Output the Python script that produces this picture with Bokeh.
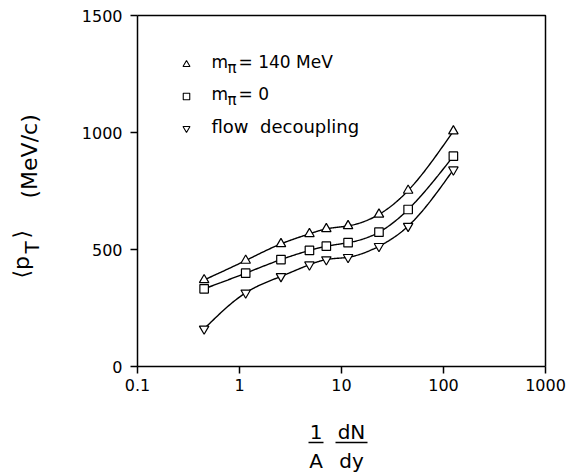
import numpy as np
from math import pi, log10
from bokeh.plotting import figure
from bokeh.models import Range1d, FixedTicker, CustomJSTickFormatter, Label, Arrow
from bokeh.embed import file_html
from bokeh.resources import INLINE

# ---------------- data ----------------
x_vals = [0.45, 1.15, 2.55, 4.85, 7.1, 11.6, 23.3, 45.0, 125.0]      # (1/A) dN/dy
pt_m140 = [370, 453, 524, 567, 588, 601, 650, 752, 1006]              # m_pi = 140 MeV
pt_m0 = [332, 399, 457, 496, 514, 529, 574, 671, 899]                 # m_pi = 0
pt_flow = [161, 315, 385, 435, 457, 467, 514, 600, 841]               # flow decoupling

x_ticks = [0.1, 1, 10, 100, 1000]
x_tick_labels = ["0.1", "1", "10", "100", "1000"]
y_ticks = [0, 500, 1000, 1500]
y_tick_labels = ["0", "500", "1000", "1500"]

# ---------------- layout ----------------
W, H = 566, 473
FL, FR, FT, FB = 137, 545, 15, 366   # axis box edges in page pixels
FONT = "DejaVu Sans"
x_lo, x_hi = x_ticks[0], x_ticks[-1]
y_lo, y_hi = y_ticks[0], y_ticks[-1]
dec = (FR - FL) / (log10(x_hi) - log10(x_lo))          # px per decade
ypx = (FB - FT) / (y_hi - y_lo)                          # px per unit

# the plotting frame fills the page; the axes sit at fixed places inside it
p = figure(width=W, height=H, x_axis_type="log",
           x_range=Range1d(10 ** (log10(x_lo) - FL / dec), 10 ** (log10(x_hi) + (W - FR) / dec)),
           y_range=Range1d(y_lo - (H - FB) / ypx, y_hi + FT / ypx),
           output_backend="svg", toolbar_location=None,
           min_border=0)
p.grid.visible = False
p.background_fill_color = "white"
p.border_fill_color = "white"
p.outline_line_color = None

for ax in (p.xaxis[0], p.yaxis[0]):
    ax.axis_line_color = "black"
    ax.axis_line_width = 1.5
    ax.major_tick_line_color = "black"
    ax.major_tick_line_width = 1.5
    ax.major_tick_out = 7
    ax.major_tick_in = 0
    ax.minor_tick_line_color = None
    ax.major_label_text_font = FONT
    ax.major_label_text_font_size = "16px"
    ax.major_label_text_color = "black"

fmt_code = """
const i = tvals.findIndex(t => Math.abs(t - tick) <= 1e-9 * Math.max(1, Math.abs(t)));
return i >= 0 ? tlabels[i] : '';
"""
p.xaxis.ticker = FixedTicker(ticks=x_ticks)
p.xaxis.formatter = CustomJSTickFormatter(args=dict(tvals=x_ticks, tlabels=x_tick_labels), code=fmt_code)
p.xaxis.major_label_standoff = 5
p.xaxis.fixed_location = y_lo
p.xaxis.bounds = (x_lo, x_hi)
p.yaxis.ticker = FixedTicker(ticks=y_ticks)
p.yaxis.formatter = CustomJSTickFormatter(args=dict(tvals=y_ticks, tlabels=y_tick_labels), code=fmt_code)
p.yaxis.major_label_standoff = 8
p.yaxis.fixed_location = x_lo
p.yaxis.bounds = (y_lo, y_hi)

# top and right sides of the box
p.line([x_lo, x_hi, x_hi], [y_hi, y_hi, y_lo], line_color="black", line_width=1.5)


# ---------------- smooth curves through the points (natural cubic spline in log x) ----------------
def spline_curve(xs, ys, per_seg=30):
    u = np.log10(np.asarray(xs, float))
    y = np.asarray(ys, float)
    n = len(u)
    h = np.diff(u)
    A = np.zeros((n - 2, n - 2))
    r = np.zeros(n - 2)
    for i in range(1, n - 1):
        k = i - 1
        A[k, k] = 2 * (h[i - 1] + h[i])
        if k > 0:
            A[k, k - 1] = h[i - 1]
        if k < n - 3:
            A[k, k + 1] = h[i]
        r[k] = 6 * ((y[i + 1] - y[i]) / h[i] - (y[i] - y[i - 1]) / h[i - 1])
    M = np.zeros(n)
    M[1:-1] = np.linalg.solve(A, r)
    uu, yy = [], []
    for i in range(n - 1):
        t = np.linspace(u[i], u[i + 1], per_seg, endpoint=(i == n - 2))
        a = u[i + 1] - t
        b = t - u[i]
        s = (M[i] * a ** 3 + M[i + 1] * b ** 3) / (6 * h[i]) \
            + (y[i] / h[i] - M[i] * h[i] / 6) * a + (y[i + 1] / h[i] - M[i + 1] * h[i] / 6) * b
        uu.extend(t)
        yy.extend(s)
    return 10 ** np.array(uu), np.array(yy)


series = [(pt_m140, "triangle"), (pt_m0, "square"), (pt_flow, "inverted_triangle")]
for ys, _ in series:
    cx, cy = spline_curve(x_vals, ys)
    p.line(cx, cy, line_color="black", line_width=1.4)
for ys, mk in series:
    p.scatter(x_vals, ys, marker=mk, size=9.5 if mk != "square" else 8.5,
              fill_color="white", line_color="black", line_width=1.2)


# ---------------- helpers for page-pixel placement of annotations ----------------
def px_to_x(px):
    return 10 ** ((px - FL) / dec + log10(x_lo))


def py_to_y(py):
    return (FB - py) / ypx + y_lo


BASE_SHIFT = 0.4  # rendered alphabetic baseline sits ~0.4 em lower than asked; compensate


def lab(text, px, py, size, align="left", angle=0.0):
    if angle == 0.0:
        py = py - BASE_SHIFT * size
    else:
        px = px - BASE_SHIFT * size
    p.add_layout(Label(x=px, y=H - py, x_units="screen", y_units="screen",
                       text=text, text_font=FONT, text_font_size=f"{size}px",
                       text_align=align, text_baseline="alphabetic",
                       text_color="black", angle=angle))


# ---------------- legend (drawn inside the box) ----------------
leg_marker_px = 186
leg_rows = [(64, "triangle"), (96, "square"), (128, "inverted_triangle")]
for my, mk in leg_rows:
    p.scatter([px_to_x(leg_marker_px)], [py_to_y(my)], marker=mk, size=7 if mk != "square" else 6.5,
              fill_color="white", line_color="black", line_width=1.1)

lab("m", 211, 68, 17)
lab("π", 227, 73, 15)
lab("= 140 MeV", 238, 68, 17)
lab("m", 211, 100, 17)
lab("π", 227, 105, 15)
lab("= 0", 238, 100, 17)
lab("flow\u00a0 decoupling", 211, 133, 18)

# ---------------- y axis label: <p_T>  (MeV/c) ----------------
lab("⟨p", 30, 278, 22, angle=pi / 2)
lab("T", 39, 253, 20, angle=pi / 2)
lab("⟩", 30, 238, 22, angle=pi / 2)
lab("(MeV/c)", 38, 198, 22, angle=pi / 2)

# ---------------- x axis label: (1/A) dN/dy ----------------
lab("1", 315.5, 439, 20, align="center")
lab("A", 315.5, 468, 20, align="center")
lab("dN", 351, 439, 20, align="center")
lab("dy", 351, 468, 20, align="center")
for x0, x1 in [(308, 323), (335, 367)]:
    p.add_layout(Arrow(start=None, end=None, x_start=x0, x_end=x1,
                       y_start=H - 442, y_end=H - 442,
                       start_units="screen", end_units="screen",
                       line_color="black", line_width=1.5))

open("out.html", "w").write(file_html(p, INLINE))
